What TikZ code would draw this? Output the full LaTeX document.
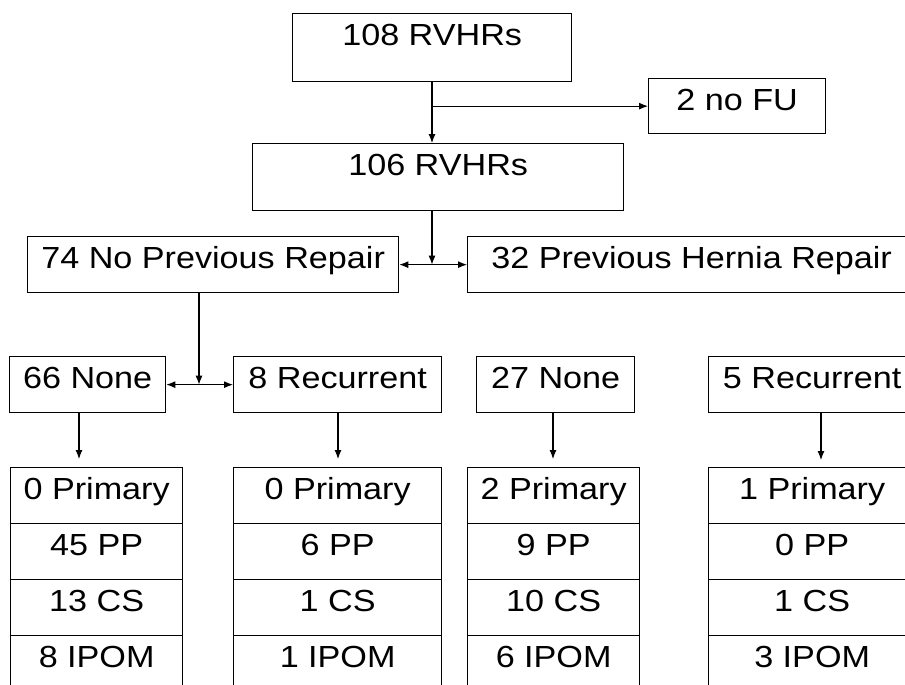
\documentclass[tikz,border=0pt]{standalone}
\usepackage{fontspec}
\setmainfont{Liberation Sans}[FakeStretch=1.12]
\usetikzlibrary{arrows.meta}

\begin{document}
\begin{tikzpicture}[x=1pt,y=-1pt,
  box/.style={draw=black, line width=1.3pt, inner sep=0pt, anchor=north west,
              text height=32pt, text depth=24pt, font=\fontsize{30.5}{30}\selectfont},
  arr/.style={-{Latex[length=9pt,width=7pt]}, line width=1.1pt},
  darr/.style={{Latex[length=9pt,width=7pt]}-{Latex[length=9pt,width=7pt]}, line width=1.1pt}]
\useasboundingbox (0,0) rectangle (905,685);
\clip (0,0) rectangle (905,685);

% top of the flow
\node[box, minimum width=279pt, text depth=36pt] (b108) at (292,13) {108 RVHRs};
\node[box, minimum width=177pt, text depth=23pt] (nofu) at (648,78) {2 no FU};
\node[box, minimum width=371pt, text depth=35pt] (b106) at (252,143) {106 RVHRs};

% split by repair history
\node[box, minimum width=371pt] (b74) at (27,236) {74 No Previous Repair};
\node[box, minimum width=448pt] (b32) at (467,236) {32 Previous Hernia Repair};

% recurrence groups
\node[box, minimum width=156pt] (n66) at (9,356) {66 None};
\node[box, minimum width=208pt] (r8) at (233,356) {8 Recurrent};
\node[box, minimum width=158pt] (n27) at (476,356) {27 None};
\node[box, minimum width=207pt] (r5) at (708,356) {5 Recurrent};

% breakdown columns
\foreach \c/\x/\w/\a/\b/\cc/\d in {
  c1/10/172/0 Primary/45 PP/13 CS/8 IPOM,
  c2/233/208/0 Primary/6 PP/1 CS/1 IPOM,
  c3/467/172/2 Primary/9 PP/10 CS/6 IPOM,
  c4/708/207/1 Primary/0 PP/1 CS/3 IPOM}{
  \node[box, minimum width=\w pt] (\c a) at (\x,467) {\a};
  \node[box, minimum width=\w pt] (\c b) at (\x,523) {\b};
  \node[box, minimum width=\w pt] (\c c) at (\x,579) {\cc};
  \node[box, minimum width=\w pt] (\c d) at (\x,635) {\d};
}

% connectors
\coordinate (x1) at (432,0);
\coordinate (x2) at (199,0);
\draw[arr] (x1 |- b108.south) -- (x1 |- b106.north);
\draw[arr] (x1 |- nofu.west) -- (nofu.west);
\draw[arr] (x1 |- b106.south) -- (x1 |- b74.east);
\draw[darr] (b74.east) -- (b32.west);
\draw[arr] (x2 |- b74.south) -- (x2 |- n66.east);
\draw[darr] (n66.east) -- (r8.west);

\coordinate (d1) at (79,0);
\coordinate (d2) at (338,0);
\coordinate (d3) at (553,0);
\coordinate (d4) at (821,0);
\draw[arr, shorten >=8pt] (d1 |- n66.south) -- (d1 |- c1a.north);
\draw[arr, shorten >=8pt] (d2 |- r8.south) -- (d2 |- c2a.north);
\draw[arr, shorten >=8pt] (d3 |- n27.south) -- (d3 |- c3a.north);
\draw[arr, shorten >=7pt] (d4 |- r5.south) -- (d4 |- c4a.north);
\end{tikzpicture}
\end{document}
